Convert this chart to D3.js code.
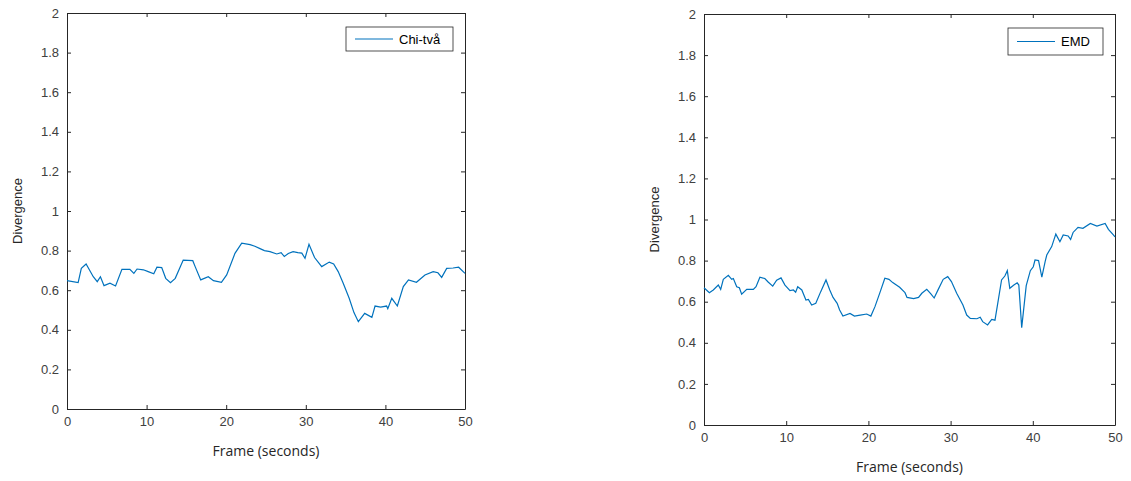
<!DOCTYPE html>
<html>
<head>
<meta charset="utf-8">
<script src="https://cdn.jsdelivr.net/npm/d3@7"></script>
<style>
  body { margin: 0; background: #fff; }
  svg { display: block; }
  .tick text { font-family: "Liberation Sans", Arial, sans-serif; font-size: 13px; fill: #404040; }
</style>
</head>
<body>
<div id="chart"></div>
<script>
// values: [seconds, divergence]
const chiTime = [0, 1.4, 1.8, 2.4, 3.3, 3.8, 4.2, 4.65, 5.4, 6.1, 6.9, 7.9, 8.4, 8.8, 9.6, 10.2, 10.9, 11.3, 11.9, 12.4, 13.0, 13.6, 14.6, 15.8, 16.1, 16.8, 17.75, 18.4, 19.4, 20.06, 21.1, 21.95, 23.0, 23.6, 24.25, 24.8, 25.5, 26.35, 26.9, 27.3, 27.8, 28.4, 29.0, 29.5, 29.9, 30.4, 31.1, 32.0, 32.95, 33.5, 34.07, 34.7, 35.45, 36.05, 36.6, 37.4, 38.3, 38.7, 39.4, 40.15, 40.3, 40.8, 41.5, 42.25, 42.9, 43.9, 44.97, 46.0, 46.6, 47.07, 47.7, 48.5, 49.2, 50];
const chiValue = [0.648, 0.638, 0.71, 0.732, 0.668, 0.643, 0.668, 0.623, 0.635, 0.621, 0.705, 0.705, 0.685, 0.707, 0.703, 0.694, 0.683, 0.716, 0.714, 0.66, 0.638, 0.66, 0.752, 0.749, 0.719, 0.652, 0.668, 0.648, 0.64, 0.677, 0.786, 0.837, 0.83, 0.822, 0.81, 0.8, 0.795, 0.783, 0.79, 0.77, 0.785, 0.795, 0.79, 0.787, 0.761, 0.832, 0.765, 0.719, 0.742, 0.733, 0.694, 0.635, 0.559, 0.487, 0.441, 0.483, 0.463, 0.52, 0.515, 0.52, 0.507, 0.559, 0.52, 0.618, 0.652, 0.64, 0.677, 0.694, 0.688, 0.665, 0.71, 0.712, 0.716, 0.685];

const emdTime = [0, 0.65, 1.13, 1.74, 2.03, 2.35, 2.96, 3.37, 3.57, 3.98, 4.3, 4.58, 5.2, 6.0, 6.33, 6.8, 7.4, 7.8, 8.36, 8.84, 9.37, 9.85, 10.46, 10.87, 11.15, 11.4, 11.9, 12.4, 12.7, 13.1, 13.6, 14.2, 14.84, 15.3, 15.7, 16.2, 16.5, 16.9, 17.76, 18.3, 19.0, 19.8, 20.3, 20.8, 21.4, 22.0, 22.5, 22.96, 23.8, 24.45, 24.7, 25.5, 26.1, 26.5, 27.1, 27.6, 28.0, 28.5, 29.1, 29.65, 30.1, 30.74, 31.5, 31.96, 32.4, 33.2, 33.6, 33.9, 34.5, 35.0, 35.4, 35.8, 36.2, 36.6, 36.9, 37.2, 37.7, 38.1, 38.3, 38.65, 39.2, 39.7, 40.06, 40.27, 40.7, 41.1, 41.5, 41.7, 42.3, 42.8, 43.3, 43.7, 44.3, 44.6, 44.9, 45.5, 46.1, 47.0, 47.8, 48.8, 49.2, 49.8, 50];
const emdValue = [0.668, 0.644, 0.657, 0.681, 0.66, 0.709, 0.728, 0.709, 0.713, 0.673, 0.668, 0.637, 0.66, 0.66, 0.673, 0.719, 0.713, 0.696, 0.676, 0.705, 0.716, 0.681, 0.654, 0.657, 0.646, 0.673, 0.657, 0.608, 0.611, 0.584, 0.592, 0.649, 0.706, 0.657, 0.621, 0.592, 0.56, 0.53, 0.543, 0.53, 0.535, 0.54, 0.53, 0.576, 0.644, 0.714, 0.709, 0.693, 0.67, 0.644, 0.621, 0.615, 0.621, 0.641, 0.66, 0.638, 0.618, 0.66, 0.709, 0.722, 0.698, 0.641, 0.584, 0.535, 0.519, 0.517, 0.524, 0.503, 0.487, 0.514, 0.51, 0.608, 0.706, 0.725, 0.751, 0.665, 0.681, 0.692, 0.681, 0.474, 0.678, 0.751, 0.77, 0.803, 0.8, 0.719, 0.795, 0.827, 0.868, 0.929, 0.892, 0.925, 0.92, 0.903, 0.937, 0.962, 0.957, 0.981, 0.968, 0.981, 0.952, 0.925, 0.915];

const xTicks = [0, 10, 20, 30, 40, 50];
const yTicks = [0, 0.2, 0.4, 0.6, 0.8, 1, 1.2, 1.4, 1.6, 1.8, 2];

const panels = [
  { time: chiTime, value: chiValue, name: 'Chi-två', left: 67, right: 465, top: 13, bottom: 409, legendW: 107, legendH: 24 },
  { time: emdTime, value: emdValue, name: 'EMD', left: 704, right: 1115, top: 14, bottom: 425, legendW: 95, legendH: 27 },
];

const lineColor = '#0072bd';
const axisColor = '#262626';

const svg = d3.select('#chart')
  .append('svg')
  .attr('width', 1131)
  .attr('height', 481);

panels.forEach((p) => {
  const x = d3.scaleLinear().domain([0, 50]).range([p.left, p.right]);
  const y = d3.scaleLinear().domain([0, 2]).range([p.bottom, p.top]);
  const g = svg.append('g');

  // axes, ticks pointing inward like matlab
  const styleAxis = (sel) => {
    sel.selectAll('.domain').attr('stroke', axisColor);
    sel.selectAll('.tick line').attr('stroke', axisColor);
  };
  g.append('g')
    .attr('transform', `translate(0,${p.bottom})`)
    .call(d3.axisBottom(x).tickValues(xTicks).tickSizeInner(-4).tickSizeOuter(0).tickPadding(8))
    .call(styleAxis);
  g.append('g')
    .attr('transform', `translate(${p.left},0)`)
    .call(d3.axisLeft(y).tickValues(yTicks).tickFormat(d3.format('~g')).tickSizeInner(-4).tickSizeOuter(0).tickPadding(8))
    .call(styleAxis);
  g.append('g')
    .attr('transform', `translate(0,${p.top})`)
    .call(d3.axisTop(x).tickValues(xTicks).tickFormat('').tickSizeInner(-4).tickSizeOuter(0))
    .call(styleAxis);
  g.append('g')
    .attr('transform', `translate(${p.right},0)`)
    .call(d3.axisRight(y).tickValues(yTicks).tickFormat('').tickSizeInner(-4).tickSizeOuter(0))
    .call(styleAxis);

  const pts = p.time.map((t, i) => [t, p.value[i]]);
  g.append('path')
    .datum(pts)
    .attr('fill', 'none')
    .attr('stroke', lineColor)
    .attr('stroke-width', 1.2)
    .attr('d', d3.line().x((d) => x(d[0])).y((d) => y(d[1])));

  // axis labels
  g.append('text')
    .attr('x', (p.left + p.right) / 2)
    .attr('y', p.bottom + 47)
    .attr('text-anchor', 'middle')
    .attr('font-family', '"Open Sans", sans-serif')
    .attr('font-size', 14)
    .attr('fill', axisColor)
    .text('Frame (seconds)');
  g.append('text')
    .attr('transform', `translate(${p.left - 45},${(p.top + p.bottom) / 2}) rotate(-90)`)
    .attr('text-anchor', 'middle')
    .attr('font-family', '"Liberation Sans", Arial, sans-serif')
    .attr('font-size', 13)
    .attr('fill', axisColor)
    .text('Divergence');

  // legend
  const lx = p.right - 12 - p.legendW;
  const ly = p.top + 14;
  const lg = g.append('g').attr('transform', `translate(${lx},${ly})`);
  lg.append('rect')
    .attr('width', p.legendW)
    .attr('height', p.legendH)
    .attr('fill', '#fff')
    .attr('stroke', axisColor)
    .attr('stroke-width', 0.8);
  lg.append('line')
    .attr('x1', 9).attr('x2', 47)
    .attr('y1', p.legendH / 2).attr('y2', p.legendH / 2)
    .attr('stroke', lineColor)
    .attr('stroke-width', 1.2);
  lg.append('text')
    .attr('x', 53)
    .attr('y', p.legendH / 2 + 4.5)
    .attr('font-family', '"Liberation Sans", Arial, sans-serif')
    .attr('font-size', 13)
    .attr('fill', '#000')
    .text(p.name);
});
</script>
</body>
</html>
